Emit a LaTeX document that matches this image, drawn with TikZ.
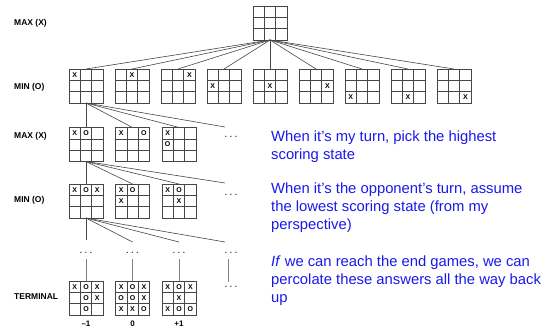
\documentclass[tikz,border=0pt]{standalone}
\usepackage{fontspec}
\setmainfont{Liberation Sans}
\usetikzlibrary{calc}
\definecolor{txtblue}{RGB}{25,25,235}
\definecolor{linegray}{RGB}{70,70,70}
\tikzset{
  board/.style={draw=linegray, line width=0.7pt, minimum width=34pt, minimum height=34pt,
    inner sep=0pt, outer sep=0pt,
    path picture={
      \foreach \f in {1,2}{
        \draw[linegray,line width=0.6pt]
          ($(path picture bounding box.north west)!\f/3!(path picture bounding box.north east)$) --
          ($(path picture bounding box.south west)!\f/3!(path picture bounding box.south east)$);
        \draw[linegray,line width=0.6pt]
          ($(path picture bounding box.north west)!\f/3!(path picture bounding box.south west)$) --
          ($(path picture bounding box.north east)!\f/3!(path picture bounding box.south east)$);
      }}},
  xo/.style={font=\bfseries\fontsize{7}{7}\selectfont, inner sep=0pt},
  rowlabel/.style={font=\bfseries\fontsize{8.5}{8.5}\selectfont, anchor=west, inner sep=0pt},
  edge/.style={draw=linegray, line width=0.6pt},
  vline/.style={draw=gray, line width=0.7pt},
  dotsn/.style={font=\bfseries\fontsize{8}{8}\selectfont, inner sep=0pt, text=black!80},
  score/.style={font=\bfseries\fontsize{8}{8}\selectfont, inner sep=0pt},
  note/.style={text=txtblue, font=\fontsize{14.8}{18}\selectfont, align=left, anchor=north west, inner sep=0pt}
}
\newcommand{\cellmark}[4]{\node[xo] (#1m#2#3) at ($(#1.north west)+({(#3-0.5)*34/3},{(#2-0.5)*34/3})$) {#4};}
\newcommand{\dotstext}{.\kern2.8pt.\kern2.8pt.}
\begin{document}
\begin{tikzpicture}[x=1pt,y=-1pt]
\useasboundingbox (0,0) rectangle (552,333);

% row labels
\node[rowlabel] (l1) at (14,23) {MAX (X)};
\node[rowlabel] (l2) at (14,87) {MIN (O)};
\node[rowlabel] (l3) at (14,136) {MAX (X)};
\node[rowlabel] (l4) at (14,200) {MIN (O)};
\node[rowlabel] (l5) at (14,297) {TERMINAL};

% root
\node[board] (root) at (270,23) {};

% MIN row 1
\foreach \i in {1,...,9}{
  \node[board] (m\i) at ({86+46*(\i-1)},86) {};
  \draw[edge] (root.south) -- (m\i.north);
}
\cellmark{m1}{1}{1}{X}
\cellmark{m2}{1}{2}{X}
\cellmark{m3}{1}{3}{X}
\cellmark{m4}{2}{1}{X}
\cellmark{m5}{2}{2}{X}
\cellmark{m6}{2}{3}{X}
\cellmark{m7}{3}{1}{X}
\cellmark{m8}{3}{2}{X}
\cellmark{m9}{3}{3}{X}

% MAX row 2
\node[board] (a1) at (86,144.5) {};
\node[board] (a2) at (132.5,144.5) {};
\node[board] (a3) at (179,144.5) {};
\node[dotsn] (ad) at (231,137) {\dotstext};
\draw[edge] (m1.south) -- (a1.north);
\draw[edge] (m1.south) -- (a2.north);
\draw[edge] (m1.south) -- (a3.north);
\draw[edge] (m1.south) -- ([shift={(-6pt,10pt)}]ad.center);
\cellmark{a1}{1}{1}{X}\cellmark{a1}{1}{2}{O}
\cellmark{a2}{1}{1}{X}\cellmark{a2}{1}{3}{O}
\cellmark{a3}{1}{1}{X}\cellmark{a3}{2}{1}{O}

% MIN row 2
\node[board] (b1) at (86,201) {};
\node[board] (b2) at (132.5,201) {};
\node[board] (b3) at (179,201) {};
\node[dotsn] (bd) at (231,195) {\dotstext};
\draw[edge] (a1.south) -- (b1.north);
\draw[edge] (a1.south) -- (b2.north);
\draw[edge] (a1.south) -- (b3.north);
\draw[edge] (a1.south) -- ([shift={(-6pt,12pt)}]bd.center);
\cellmark{b1}{1}{1}{X}\cellmark{b1}{1}{2}{O}\cellmark{b1}{1}{3}{X}
\cellmark{b2}{1}{1}{X}\cellmark{b2}{1}{2}{O}\cellmark{b2}{2}{1}{X}
\cellmark{b3}{1}{1}{X}\cellmark{b3}{1}{2}{O}\cellmark{b3}{2}{2}{X}

% dots row
\node[dotsn] (d1) at (86,253) {\dotstext};
\node[dotsn] (d2) at (132.5,253) {\dotstext};
\node[dotsn] (d3) at (179,253) {\dotstext};
\node[dotsn] (d4) at (231,253) {\dotstext};
\draw[edge] (b1.south) -- ([yshift=13pt]d1.center);
\draw[edge] (b1.south) -- ([yshift=11pt]d2.center);
\draw[edge] (b1.south) -- ([yshift=11pt]d3.center);
\draw[edge] (b1.south) -- ([shift={(-6pt,11pt)}]d4.center);

% terminal row
\node[board] (t1) at (86,298) {};
\node[board] (t2) at (132.5,298) {};
\node[board] (t3) at (179,298) {};
\node[dotsn] (td) at (231,287) {\dotstext};
\draw[vline] ([yshift=-6pt]d1.center) -- (t1.north);
\draw[vline] ([yshift=-6pt]d2.center) -- (t2.north);
\draw[vline] ([yshift=-6pt]d3.center) -- (t3.north);
\draw[vline] ([shift={(-3pt,-6pt)}]d4.center) -- ([shift={(-3pt,5pt)}]td.center);

\cellmark{t1}{1}{1}{X}\cellmark{t1}{1}{2}{O}\cellmark{t1}{1}{3}{X}
\cellmark{t1}{2}{2}{O}\cellmark{t1}{2}{3}{X}
\cellmark{t1}{3}{2}{O}

\cellmark{t2}{1}{1}{X}\cellmark{t2}{1}{2}{O}\cellmark{t2}{1}{3}{X}
\cellmark{t2}{2}{1}{O}\cellmark{t2}{2}{2}{O}\cellmark{t2}{2}{3}{X}
\cellmark{t2}{3}{1}{X}\cellmark{t2}{3}{2}{X}\cellmark{t2}{3}{3}{O}

\cellmark{t3}{1}{1}{X}\cellmark{t3}{1}{2}{O}\cellmark{t3}{1}{3}{X}
\cellmark{t3}{2}{2}{X}
\cellmark{t3}{3}{1}{X}\cellmark{t3}{3}{2}{O}\cellmark{t3}{3}{3}{O}

\node[score] (s1) at (86,324) {--1};
\node[score] (s2) at (132.5,324) {0};
\node[score] (s3) at (179,324) {+1};

% notes
\node[note] (n1) at (271,130.2) {When it’s my turn, pick the highest\\scoring state};
\node[note] (n2) at (271,182.2) {When it’s the opponent’s turn, assume\\the lowest scoring state (from my\\perspective)};
\node[note] (n3) at (271,255.8) {\textit{If} we can reach the end games, we can\\percolate these answers all the way back\\up};
\end{tikzpicture}
\end{document}
